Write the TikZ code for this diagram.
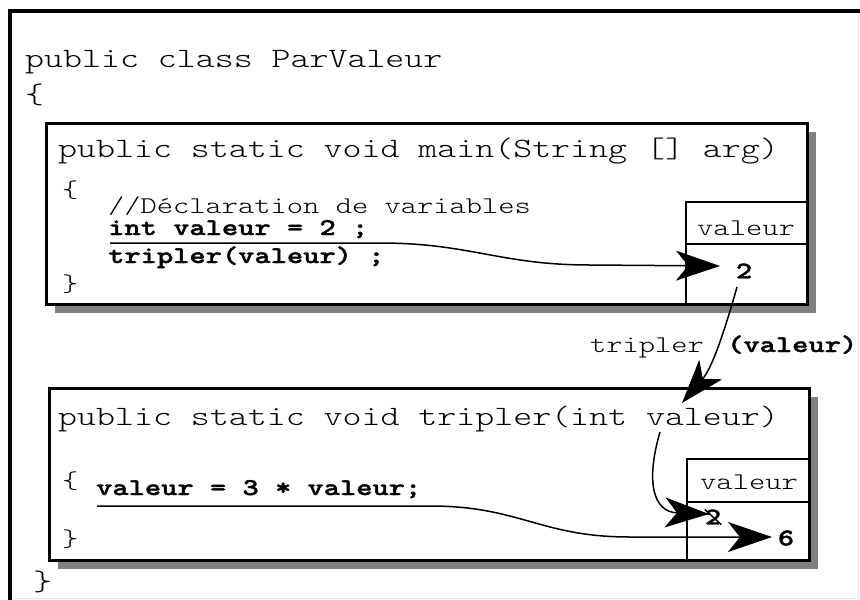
\documentclass[tikz,border=0pt]{standalone}
\usepackage{fontspec}
\setmonofont[FakeStretch=1.29,BoldFont=lmmonolt10-bold.otf,BoldFeatures={FakeBold=1.5}]{lmmonolt10-regular.otf}
\usetikzlibrary{arrows.meta}
\definecolor{shadowgray}{HTML}{808080}
\definecolor{lightframe}{HTML}{E4E4E4}
\tikzset{
  bigtxt/.style={font=\ttfamily\fontsize{28}{30}\selectfont, inner sep=0pt, anchor=base west},
  smalltxt/.style={font=\ttfamily\fontsize{24}{26}\selectfont, inner sep=0pt, anchor=base west},
  smallbold/.style={font=\ttfamily\bfseries\fontsize{24}{26}\selectfont, inner sep=0pt, anchor=base west},
  framebox/.style={draw, line width=3pt, fill=white},
  shadowbox/.style={fill=shadowgray},
  cellline/.style={line width=2pt},
  conn/.style={line width=1.5pt, -{Stealth[length=44pt,width=30pt,inset=12pt]}},
}
\begin{document}
\begin{tikzpicture}[x=1pt,y=-1pt]
\useasboundingbox (0,0) rectangle (860,600);
\fill[white] (0,0) rectangle (860,600);
% outer frame
\draw[lightframe, line width=1pt] (858,11) -- (858,598) -- (10,598);
\draw[line width=4pt] (10,600) -- (10,11) -- (860,11);

% class text
\node[bigtxt] (cls) at (25,67) {public class ParValeur};
\node[bigtxt] (clsopen) at (25,103) {\{};
\node[bigtxt] (clsclose) at (33,590) {\}};

% main box
\fill[shadowbox] (55,132) rectangle (816,313);
\draw[framebox] (46,123) rectangle (807,304);
\draw[cellline] (686,304) -- (686,202) -- (807,202);
\draw[line width=1.5pt] (686,244) -- (807,244);
\node[bigtxt] (mainsig) at (58,157) {public static void main(String [] arg)};
\node[smalltxt] (mainopen) at (62,197) {\{};
\node[smalltxt] (comment) at (108,213) {//Déclaration de variables};
\node[smallbold] (decl) at (108,235) {int valeur = 2 ;};
\node[smallbold] (call) at (108,263) {tripler(valeur) ;};
\node[smalltxt] (mainclose) at (62,291) {\}};
\node[smalltxt, anchor=center] (var1) at (746,228) {valeur};
\node[smallbold, anchor=center] (two1) at (744,271) {2};

% tripler box
\fill[shadowbox] (58,397) rectangle (818,569);
\draw[framebox] (49,388) rectangle (809,560);
\draw[cellline] (687,560) -- (687,459) -- (809,459);
\draw[line width=1.5pt] (687,502) -- (809,502);
\node[bigtxt] (tripsig) at (58,425) {public static void tripler(int valeur)};
\node[smalltxt] (tripopen) at (62,488) {\{};
\node[smallbold] (assign) at (96,495) {valeur = 3 * valeur;};
\node[smalltxt] (tripclose) at (62,546) {\}};
\node[smalltxt, anchor=center] (var2) at (749,482) {valeur};
\node[smallbold, anchor=center] (two2) at (713,517) {2};
\node[smallbold, anchor=center] (six) at (786,538) {6};
\draw[line width=1.5pt] (two2.north west) -- (two2.south east);

% call label
\node[smalltxt] (lbltrip) at (590,352) {tripler};
\node[smallbold] (lblarg) at (727,352) {(valeur)};

% connectors
\coordinate (declstart) at (110,243);
\coordinate (t1) at (720,266);
\draw[conn] (declstart) -- (380,243) .. controls (470,243) and (500,265) .. (590,265) -- (t1);

\coordinate (from2) at (737,287);
\coordinate (t2) at (682,403);
\draw[conn] (from2) .. controls (724,333) and (712,368) .. (t2);

\coordinate (fromparam) at (660,432);
\coordinate (t3) at (709,514);
\draw[conn] (fromparam) .. controls (646,480) and (652,512) .. (t3);

\coordinate (assignstart) at (97,506);
\coordinate (t4) at (772,537);
\draw[conn] (assignstart) -- (430,506) .. controls (520,506) and (540,537) .. (630,537) -- (t4);
\end{tikzpicture}
\end{document}
